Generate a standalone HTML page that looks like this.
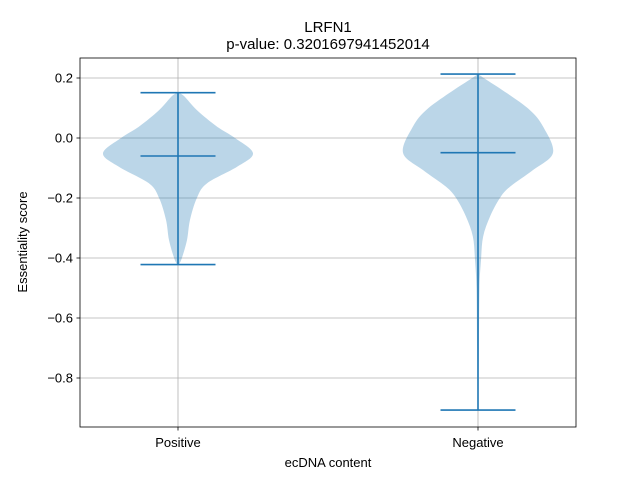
<!DOCTYPE html>
<html><head><meta charset="utf-8"><style>body{margin:0;background:#fff}svg{display:block;font-family:"Liberation Sans",sans-serif}</style></head>
<body>
<svg id="chart" width="640" height="480">
<rect width="640" height="480" fill="#fff"/>
<g id="grid"></g><g id="violins"></g>
<rect x="80" y="58" width="496" height="369" fill="none" stroke="#000" stroke-width="0.8"/>
<g id="axes"></g>
<text x="328" y="32" text-anchor="middle" font-size="15">LRFN1</text>
<text x="328" y="49" text-anchor="middle" font-size="15">p-value: 0.3201697941452014</text>
<text x="328" y="467" text-anchor="middle" font-size="13">ecDNA content</text>
<text transform="translate(27,242) rotate(-90)" text-anchor="middle" font-size="13">Essentiality score</text>
</svg>
<script>
const categories=["Positive","Negative"];
const yTicks=[0.2,0.0,-0.2,-0.4,-0.6,-0.8];
const maxVals=[0.151,0.213];
const minVals=[-0.422,-0.907];
const medians=[-0.06,-0.049];
const densV=[
 [0.151,0.14,0.093,0.038,0,-0.051,-0.096,-0.151,-0.2,-0.273,-0.34,-0.4,-0.422],
 [0.213,0.193,0.149,0.093,0.038,-0.049,-0.107,-0.162,-0.2,-0.262,-0.329,-0.407,-0.5,-0.7,-0.907]];
const densW=[
 [0.0,0.02,0.063,0.13,0.19,0.25,0.197,0.097,0.063,0.04,0.03,0.013,0.003],
 [0.0,0.03,0.097,0.173,0.217,0.25,0.183,0.107,0.073,0.04,0.017,0.01,0.005,0.003,0.001]];
const X=v=>178+(v-1)*300, Y=v=>138-300*v;
const NS="http://www.w3.org/2000/svg";
function mk(t,a,p){const e=document.createElementNS(NS,t);for(const k in a)e.setAttribute(k,a[k]);p.appendChild(e);return e;}
function smooth(pts,start){let d=start?'M'+pts[0][0]+','+pts[0][1]:'L'+pts[0][0]+','+pts[0][1];
 for(let i=0;i<pts.length-1;i++){const p0=pts[Math.max(i-1,0)],p1=pts[i],p2=pts[i+1],p3=pts[Math.min(i+2,pts.length-1)];
  const c1=[p1[0]+(p2[0]-p0[0])/6,p1[1]+(p2[1]-p0[1])/6],c2=[p2[0]-(p3[0]-p1[0])/6,p2[1]-(p3[1]-p1[1])/6];
  d+='C'+c1[0]+','+c1[1]+' '+c2[0]+','+c2[1]+' '+p2[0]+','+p2[1];}
 return d;}
const grid=document.getElementById('grid'),axes=document.getElementById('axes'),vg=document.getElementById('violins');
yTicks.forEach(t=>{const y=Y(t);
 const g=mk('line',{x1:80,x2:576,y1:y,y2:y,stroke:'#b0b0b0','stroke-width':0.8},grid);
 
 
 mk('line',{x1:76.5,x2:80,y1:y,y2:y,stroke:'#000','stroke-width':0.8},axes);
 const tx=mk('text',{x:73,y:y+4.5,'text-anchor':'end','font-size':13},axes);
 tx.textContent=(t<0?'\u2212':'')+Math.abs(t).toFixed(1);
 
 
});
categories.forEach((c,i)=>{const x=X(i+1);
 const g=mk('line',{x1:x,x2:x,y1:58,y2:427,stroke:'#b0b0b0','stroke-width':0.8},grid);
 
 
 mk('line',{x1:x,x2:x,y1:427,y2:430.5,stroke:'#000','stroke-width':0.8},axes);
 const tx=mk('text',{x:x,y:447,'text-anchor':'middle','font-size':13},axes);
 tx.textContent=c;
 
 
 const vs=densV[i],ws=densW[i];
 const right=vs.map((v,j)=>[X(i+1+ws[j]),Y(v)]);
 const left=vs.map((v,j)=>[X(i+1-ws[j]),Y(v)]).reverse();
 const d=smooth(right,true)+smooth(left,false)+'Z';
 const p=mk('path',{d:d,fill:'#1f77b4','fill-opacity':0.3},vg);
 
 
 const st={stroke:'#1f77b4','stroke-width':1.6};
 const bar=mk('line',Object.assign({x1:x,x2:x,y1:Y(maxVals[i]),y2:Y(minVals[i])},st),vg);
 
 
 [maxVals[i],minVals[i],medians[i]].forEach((v,k)=>{
  const l=mk('line',Object.assign({x1:X(i+1-0.125),x2:X(i+1+0.125),y1:Y(v),y2:Y(v)},st),vg);
  
  
 });
});
</script>
</body></html>
